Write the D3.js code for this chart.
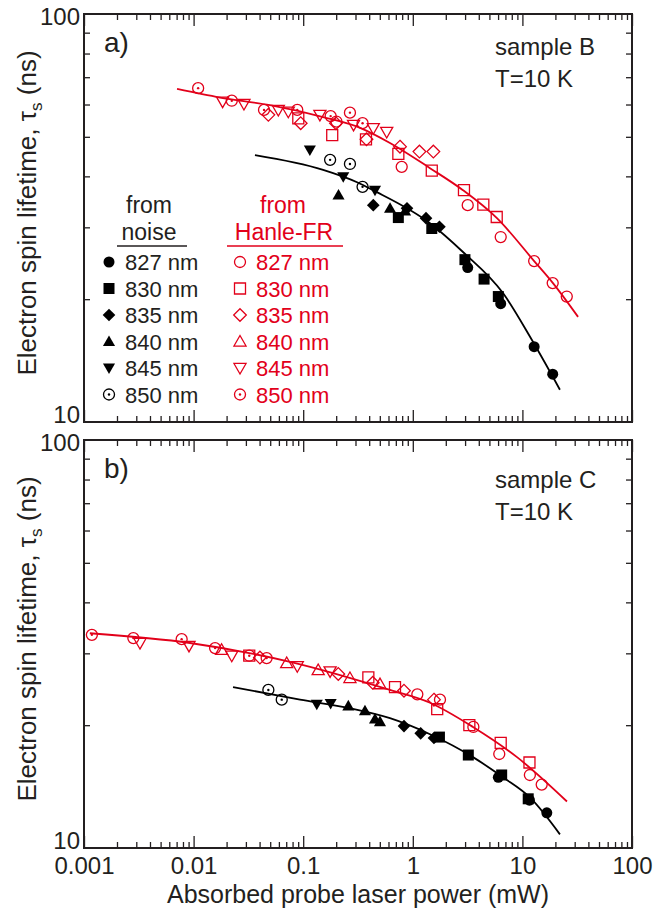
<!DOCTYPE html>
<html>
<head>
<meta charset="utf-8">
<script src="https://d3js.org/d3.v7.min.js"></script>
<style>
    body { margin: 0; background: #fff; }
    svg { display: block; font-family: "Liberation Sans", Arial, sans-serif; }
</style>
</head>
<body>
<div id="chart"></div>
<script>
// wavelengths and marker shapes (same order in every series list)
var wavelengths = ["827 nm", "830 nm", "835 nm", "840 nm", "845 nm", "850 nm"];
var shapes = ["circle", "square", "diamond", "triUp", "triDown", "dotCircle"];

var xTicks = [0.001, 0.01, 0.1, 1, 10, 100];
var xTickLabels = ["0.001", "0.01", "0.1", "1", "10", "100"];
var yTicks = [10, 100];

// panel a) sample B, [power mW, lifetime ns]
var aNoise = [
    [[3.17, 23.9], [6.34, 19.5], [12.8, 15.3], [18.9, 13.1]],
    [[0.738, 31.7], [1.49, 29.8], [2.99, 25.0], [4.47, 22.4], [6.03, 20.3]],
    [[0.436, 34.0], [0.885, 33.4], [1.32, 31.6], [1.75, 30.1]],
    [[0.21, 36.0], [0.62, 33.4], [0.85, 32.9]],
    [[0.115, 46.4], [0.232, 39.9], [0.452, 37.0]],
    [[0.176, 43.9], [0.267, 42.9], [0.348, 37.7]]
];
var aHanle = [
    [[0.201, 54.5], [0.792, 42.2], [3.17, 34.0], [6.34, 28.4], [12.8, 24.8], [18.9, 21.9], [25.4, 20.3]],
    [[0.0902, 55.5], [0.184, 50.5], [0.374, 49.3], [0.738, 45.4], [1.49, 41.3], [2.93, 37.0], [4.40, 34.1], [5.83, 31.8]],
    [[0.0481, 56.6], [0.0949, 54.0], [0.199, 54.0], [0.378, 49.3], [0.764, 47.3], [1.15, 46.0], [1.54, 46.0]],
    [],
    [[0.0184, 61.0], [0.0288, 60.2], [0.0593, 58.2], [0.0731, 57.6], [0.142, 56.6], [0.288, 53.5], [0.436, 52.5], [0.578, 51.4]],
    [[0.011, 65.8], [0.0223, 61.3], [0.0439, 58.2], [0.0883, 58.2], [0.178, 56.2], [0.267, 57.3], [0.348, 54.0]]
];
var aFitNoise = [[0.0363, 45.1], [0.152, 41.5], [0.31, 38.7], [0.433, 37.0], [1.435, 30.7], [2.87, 26.1], [6.65, 20.7], [11.7, 16.2], [22.0, 12.0]];
var aFitHanle = [[0.00706, 65.5], [0.0174, 62.4], [0.0498, 59.8], [0.152, 55.9], [0.33, 52.6], [0.619, 48.3], [1.435, 41.9], [2.87, 37.0], [5.86, 31.6], [12.8, 24.8], [19.0, 21.9], [32.2, 18.1]];

// panel b) sample C
var bNoise = [
    [[6.03, 14.9], [11.6, 13.1], [16.7, 12.2]],
    [[1.75, 18.7], [3.21, 16.9], [6.47, 15.1], [11.3, 13.2]],
    [[0.831, 19.9], [1.18, 19.1], [1.56, 18.6]],
    [[0.258, 22.3], [0.366, 21.7], [0.452, 20.7], [0.502, 20.4]],
    [[0.133, 22.5], [0.178, 22.6]],
    [[0.0481, 24.4], [0.0637, 23.1]]
];
var bHanle = [
    [[1.10, 23.8], [1.77, 23.1], [3.57, 19.8], [6.15, 17.0], [11.7, 15.1], [15.0, 14.3]],
    [[0.0322, 29.6], [0.393, 26.2], [0.688, 24.8], [1.67, 21.9], [3.28, 20.0], [6.34, 18.1], [11.6, 16.2]],
    [[0.0403, 29.3], [0.209, 26.7], [0.431, 25.4], [0.831, 24.3], [1.56, 23.1]],
    [[0.018, 30.6], [0.0707, 28.4], [0.137, 27.3], [0.267, 26.1], [0.502, 25.2]],
    [[0.00324, 31.8], [0.00908, 31.3], [0.0223, 29.6], [0.0883, 27.9], [0.176, 27.1]],
    [[0.00118, 33.3], [0.00282, 32.7], [0.00778, 32.5], [0.0157, 30.9], [0.0322, 29.6], [0.0464, 29.2]]
];
var bFitNoise = [[0.0229, 24.8], [0.0935, 23.1], [0.267, 22.0], [0.619, 20.8], [1.435, 19.0], [3.54, 16.7], [6.65, 14.9], [11.7, 13.3], [22.0, 10.8]];
var bFitHanle = [[0.00113, 33.6], [0.00927, 31.8], [0.0758, 28.6], [0.619, 24.4], [1.435, 22.7], [3.54, 19.8], [8.93, 16.7], [25.5, 13.0]];

var RED = "#e2001a", INK = "#231f20";

var svg = d3.select("#chart").append("svg")
    .attr("width", 669).attr("height", 909);

var x = d3.scaleLog().domain([0.001, 100]).range([84, 632]);

// minor tick values for both axes
var xMinor = [];
[0.001, 0.01, 0.1, 1, 10].forEach(function(d) {
    for (var k = 2; k <= 9; k++) xMinor.push(d * k);
});
var yMinor = [];
for (var k = 2; k <= 9; k++) yMinor.push(k * 10);

function shapePath(type, s) {
    var h = s / 2;
    if (type == "square") return "M" + -h + "," + -h + "H" + h + "V" + h + "H" + -h + "Z";
    if (type == "diamond") { var d = h * 1.15; return "M0," + -d + "L" + d + ",0L0," + d + "L" + -d + ",0Z"; }
    if (type == "triUp") { var t = h * 1.1; return "M0," + (-t) + "L" + t + "," + (t * 0.75) + "L" + -t + "," + (t * 0.75) + "Z"; }
    if (type == "triDown") { var t = h * 1.1; return "M0," + t + "L" + t + "," + (-t * 0.75) + "L" + -t + "," + (-t * 0.75) + "Z"; }
    return null;
}

function drawMarker(g, type, cx, cy, filled, color) {
    var s = 11;
    if (type == "circle" || type == "dotCircle") {
        g.append("circle").attr("cx", cx).attr("cy", cy).attr("r", s / 2)
            .attr("fill", filled ? color : "none")
            .attr("stroke", color).attr("stroke-width", filled ? 0 : 1.3);
        if (type == "dotCircle") {
            g.append("circle").attr("cx", cx).attr("cy", cy).attr("r", 1.2).attr("fill", color);
        }
    } else {
        g.append("path").attr("d", shapePath(type, s))
            .attr("transform", "translate(" + cx + "," + cy + ")")
            .attr("fill", filled ? color : "none")
            .attr("stroke", color).attr("stroke-width", filled ? 0 : 1.3);
    }
}

function panel(top, bottom, noise, hanle, fitNoise, fitHanle, letter, sample, textY, showX) {
    var y = d3.scaleLog().domain([10, 100]).range([bottom, top]);
    var g = svg.append("g");

    // inward ticks on all four sides
    g.append("g").attr("transform", "translate(0," + bottom + ")")
        .call(d3.axisBottom(x).tickValues(xMinor).tickSize(-6).tickSizeOuter(0).tickFormat(""));
    g.append("g").attr("transform", "translate(0," + bottom + ")")
        .call(d3.axisBottom(x).tickValues(xTicks).tickSize(-12).tickSizeOuter(0)
            .tickFormat(function(d, i) { return showX ? xTickLabels[i] : ""; }));
    g.append("g").attr("transform", "translate(0," + top + ")")
        .call(d3.axisTop(x).tickValues(xMinor).tickSize(-6).tickSizeOuter(0).tickFormat(""));
    g.append("g").attr("transform", "translate(0," + top + ")")
        .call(d3.axisTop(x).tickValues(xTicks).tickSize(-12).tickSizeOuter(0).tickFormat(""));
    g.append("g").attr("transform", "translate(84,0)")
        .call(d3.axisLeft(y).tickValues(yMinor).tickSize(-6).tickSizeOuter(0).tickFormat(""));
    g.append("g").attr("transform", "translate(632,0)")
        .call(d3.axisRight(y).tickValues(yMinor).tickSize(-6).tickSizeOuter(0).tickFormat(""));

    g.selectAll(".domain").remove();
    g.selectAll(".tick line").attr("stroke", INK).attr("stroke-width", 1.3);
    g.selectAll(".tick text").attr("fill", INK).attr("font-size", 24)
        .attr("font-family", "Liberation Sans, Arial, sans-serif").attr("dy", "0.96em");

    g.append("rect").attr("x", 84).attr("y", top).attr("width", 548).attr("height", bottom - top)
        .attr("fill", "none").attr("stroke", INK).attr("stroke-width", 2);

    yTicks.forEach(function(v) {
        g.append("text").attr("x", 80).attr("y", v == 100 ? y(v) + 11 : y(v) + 1)
            .attr("text-anchor", "end").attr("font-size", 24).attr("fill", INK).text(v);
    });

    // y label
    var lbl = g.append("text")
        .attr("transform", "translate(36," + ((top + bottom) / 2 - 5) + ") rotate(-90)")
        .attr("text-anchor", "middle").attr("font-size", 26).attr("fill", INK);
    lbl.append("tspan").text("Electron spin lifetime, \u03c4");
    lbl.append("tspan").attr("font-size", 17).attr("dy", 6).text("s");
    lbl.append("tspan").attr("dy", -6).text(" (ns)");

    var line = d3.line()
        .x(function(d) { return x(d[0]); })
        .y(function(d) { return y(d[1]); })
        .curve(d3.curveMonotoneX);
    g.append("path").datum(fitHanle).attr("d", line)
        .attr("fill", "none").attr("stroke", RED).attr("stroke-width", 1.8);
    g.append("path").datum(fitNoise).attr("d", line)
        .attr("fill", "none").attr("stroke", "#000").attr("stroke-width", 1.8);

    hanle.forEach(function(series, i) {
        series.forEach(function(p) {
            drawMarker(g, shapes[i], x(p[0]), y(p[1]), false, RED);
        });
    });
    noise.forEach(function(series, i) {
        series.forEach(function(p) {
            drawMarker(g, shapes[i], x(p[0]), y(p[1]), shapes[i] != "dotCircle", "#000");
        });
    });

    g.append("text").attr("x", 104).attr("y", top + 38).attr("font-size", 28).attr("fill", INK).text(letter);
    g.append("text").attr("x", 495).attr("y", textY).attr("font-size", 24).attr("fill", INK).text(sample);
    g.append("text").attr("x", 495).attr("y", textY + 32).attr("font-size", 24).attr("fill", INK).text("T=10 K");
    return g;
}

var ga = panel(14, 422, aNoise, aHanle, aFitNoise, aFitHanle, "a)", "sample B", 55, false);
panel(440, 848, bNoise, bHanle, bFitNoise, bFitHanle, "b)", "sample C", 488, true);

// legend in panel a
var leg = ga.append("g");
leg.append("text").attr("x", 149).attr("y", 213).attr("text-anchor", "middle")
    .attr("font-size", 23).attr("fill", INK).text("from");
leg.append("text").attr("x", 149).attr("y", 240).attr("text-anchor", "middle")
    .attr("font-size", 23).attr("fill", INK).text("noise");
leg.append("line").attr("x1", 117).attr("x2", 187).attr("y1", 246).attr("y2", 246)
    .attr("stroke", INK).attr("stroke-width", 1.5);
leg.append("text").attr("x", 283).attr("y", 213).attr("text-anchor", "middle")
    .attr("font-size", 23).attr("fill", RED).text("from");
leg.append("text").attr("x", 284).attr("y", 240).attr("text-anchor", "middle")
    .attr("font-size", 23).attr("fill", RED).text("Hanle-FR");
leg.append("line").attr("x1", 227).attr("x2", 343).attr("y1", 246).attr("y2", 246)
    .attr("stroke", RED).attr("stroke-width", 1.5);

wavelengths.forEach(function(w, i) {
    var yy = 262 + i * 26.5;
    drawMarker(leg, shapes[i], 109, yy, shapes[i] != "dotCircle", "#000");
    leg.append("text").attr("x", 125).attr("y", yy + 8).attr("font-size", 22).attr("fill", INK).text(w);
    drawMarker(leg, shapes[i], 240, yy, false, RED);
    leg.append("text").attr("x", 256).attr("y", yy + 8).attr("font-size", 22).attr("fill", RED).text(w);
});

svg.append("text").attr("x", 358).attr("y", 903).attr("text-anchor", "middle")
    .attr("font-size", 25).attr("fill", INK).text("Absorbed probe laser power (mW)");
</script>
</body>
</html>
